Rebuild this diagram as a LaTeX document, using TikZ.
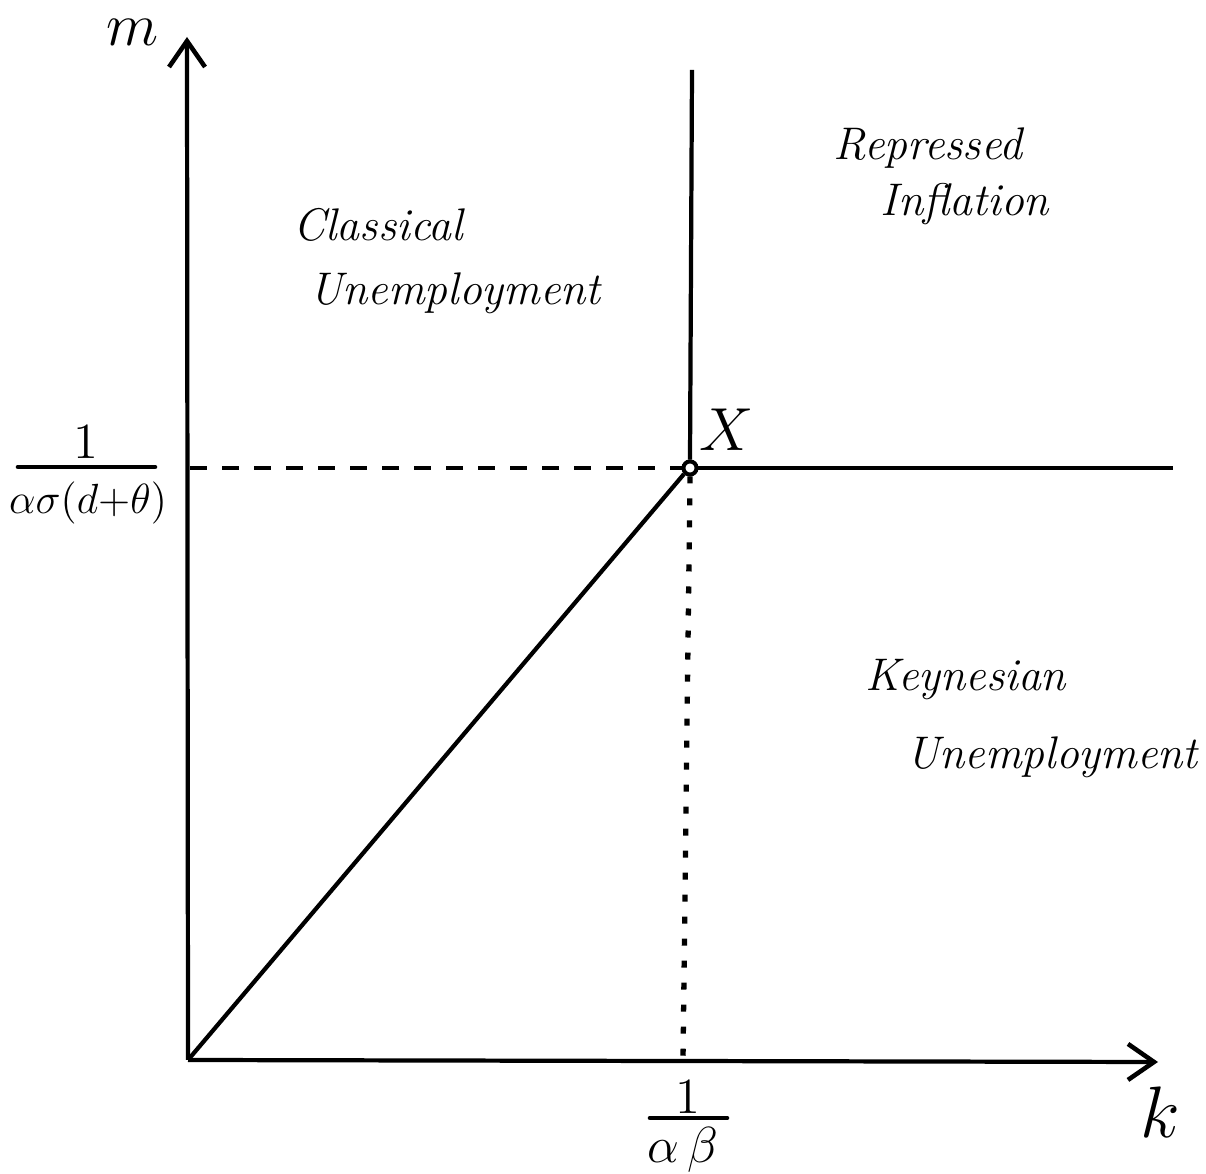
\documentclass[tikz,border=0pt]{standalone}
\usetikzlibrary{arrows.meta}
\begin{document}
\begin{tikzpicture}[x=0.01cm,y=-0.01cm,
  axisline/.style={line width=1.2pt,-{Straight Barb[length=0.26cm,width=0.36cm,line width=1.3pt]}},
  curve/.style={line width=1.2pt},
  dashline/.style={line width=1.1pt,dash pattern=on 0.17cm off 0.15cm},
  dotline/.style={line width=1.5pt,dash pattern=on 0.07cm off 0.15cm},
  region/.style={font=\fontsize{13}{15}\selectfont\itshape,inner sep=0pt},
  mathlab/.style={font=\fontsize{14}{16}\selectfont,inner sep=0pt},
  bar/.style={line width=1.3pt,line cap=round},
  pt/.style={circle,draw,line width=1.1pt,fill=white,minimum size=0.13cm,inner sep=0pt}]
\useasboundingbox (0,0) rectangle (1206,1174);
% key points
\coordinate (O) at (188,1060);
\coordinate (ytip) at (187,37);
\coordinate (xtip) at (1158,1062);
\coordinate (top) at (692,70);
\coordinate (right) at (1173,468);
\coordinate (dstart) at (190,468);
\coordinate (dend) at (683,1060);
\node[pt] (X) at (690,468) {};
% lines
\draw[dashline] (dstart) -- (X.west);
\draw[dotline] (X.south) -- (dend);
\draw[curve] (X.north) -- (top);
\draw[curve] (X.east) -- (right);
\draw[curve] (O) -- (X.south west);
\draw[axisline] (O) -- (ytip);
\draw[axisline] (O) -- (xtip);
\node[pt] at (X) {};
% axis labels
\node[font=\fontsize{16}{18}\selectfont,inner sep=0pt] (mlab) at (133,32) {$m$};
\node[font=\fontsize{20}{22}\selectfont,inner sep=0pt] (klab) at (1160,1112) {$k$};
\node[font=\fontsize{19}{21}\selectfont,inner sep=0pt] (xlab) at (727,430) {$X$};
% fraction on m axis
\node[mathlab] (num1) at (86,442) {$1$};
\coordinate (b1l) at (18,467);
\coordinate (b1r) at (155,467);
\draw[bar] (b1l) -- (b1r);
\node[font=\fontsize{12}{14}\selectfont,inner sep=0pt] (den1) at (88,503) {$\alpha\sigma(d{+}\theta)$};
% fraction on k axis
\node[mathlab] (num2) at (688,1097) {$1$};
\coordinate (b2l) at (650,1118);
\coordinate (b2r) at (727,1118);
\draw[bar] (b2l) -- (b2r);
\node[mathlab] (den2) at (683,1150) {$\alpha\,\beta$};
% region labels
\node[region] (cl1) at (378,225) {Classical};
\node[region] (cl2) at (455,293) {Unemployment};
\node[region] (ri1) at (928,148) {Repressed};
\node[region] (ri2) at (965,204) {Inflation};
\node[region] (ke1) at (966,680) {Keynesian};
\node[region] (ke2) at (1052,757) {Unemployment};
\end{tikzpicture}
\end{document}
